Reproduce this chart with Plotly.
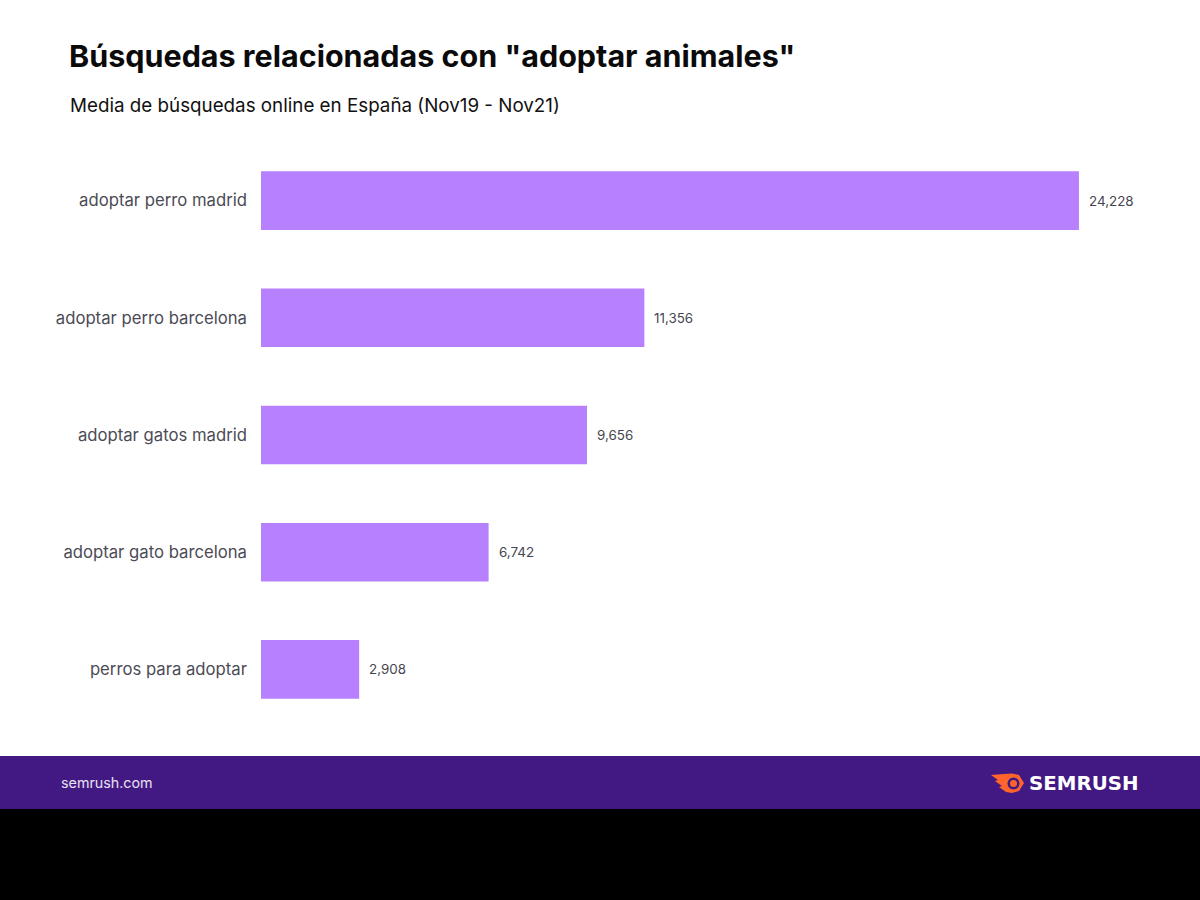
import plotly.graph_objects as go

W = 1200
H = 900

# plot area in page pixels
LEFT = 261
TOP = 142
BOTTOM = 728

# Data
keywords = ['adoptar perro madrid', 'adoptar perro barcelona', 'adoptar gatos madrid',
            'adoptar gato barcelona', 'perros para adoptar']
searches = [24228, 11356, 9656, 6742, 2908]

TITLE = 'Búsquedas relacionadas con "adoptar animales"'
SUBTITLE = 'Media de búsquedas online en España (Nov19 - Nov21)'


def px(x):
    # paper coordinates are relative to the plot area
    return (x - LEFT) / (W - LEFT)


def py(y):
    return (BOTTOM - y) / (BOTTOM - TOP)


def path(points):
    # pixel points -> closed svg path in paper coordinates
    parts = [f'{px(x):.5f},{py(y):.5f}' for x, y in points]
    return 'M' + ' L'.join(parts) + ' Z'


fig = go.Figure()
fig.add_trace(go.Bar(y=keywords, x=searches, orientation='h',
                     marker=dict(color='#B780FF', line=dict(width=0)),
                     hoverinfo='skip'))

# value labels next to the bars
for k, v in zip(keywords, searches):
    fig.add_annotation(x=v, y=k, xref='x', yref='y', text=f'{v:,}', showarrow=False,
                       xanchor='left', xshift=8,
                       font=dict(family='Inter', size=13.4, color='#45454F'))

# subtitle and footer text
fig.add_annotation(x=px(70), y=py(105), xref='paper', yref='paper', text=SUBTITLE,
                   showarrow=False, xanchor='left', yanchor='middle', xshift=-2,
                   font=dict(family='Inter', size=18.8, color='#111111'))
fig.add_annotation(x=px(61), y=py(782.5), xref='paper', yref='paper', text='semrush.com',
                   showarrow=False, xanchor='left', yanchor='middle', xshift=-2,
                   font=dict(family='Inter', size=14.3, color='#E8E0F2'))
fig.add_annotation(x=px(1029), y=py(783), xref='paper', yref='paper', text='<b>SEMRUSH</b>',
                   showarrow=False, xanchor='left', yanchor='middle', xshift=-2,
                   font=dict(family='DejaVu Sans', size=19.8, color='#FFFFFF'))

shapes = [
    # footer band and black strip
    dict(type='rect', xref='paper', yref='paper', x0=px(0), x1=px(W), y0=py(809), y1=py(756),
         fillcolor='#421983', line_width=0, layer='below'),
    dict(type='rect', xref='paper', yref='paper', x0=px(0), x1=px(W), y0=py(H), y1=py(809),
         fillcolor='#000000', line_width=0, layer='below'),
    # logo flame
    dict(type='path', xref='paper', yref='paper', line_width=0, fillcolor='#FF642D',
         path=path([(991, 775), (1004, 774), (1012, 773.5), (1019, 775), (1024, 783),
                    (1019, 791), (1012, 793), (1006, 792), (999, 787), (1002, 786), (995, 781), (998, 780)])),
    dict(type='circle', xref='paper', yref='paper', line_width=0, fillcolor='#421983',
         x0=px(1007.5), x1=px(1019.5), y0=py(789.5), y1=py(777.5)),
    dict(type='circle', xref='paper', yref='paper', line_width=0, fillcolor='#FF642D',
         x0=px(1010), x1=px(1017), y0=py(787), y1=py(780)),
]

fig.update_layout(
    width=W, height=H,
    margin=dict(l=LEFT, r=0, t=TOP, b=H - BOTTOM, autoexpand=False),
    paper_bgcolor='#FFFFFF', plot_bgcolor='#FFFFFF',
    showlegend=False,
    bargap=0.5,
    title=dict(text=f'<b>{TITLE}</b>', xref='container', yref='container', x=69 / W, xanchor='left',
               y=1 - 56 / H, yanchor='middle',
               font=dict(family='Inter', size=30.5, color='#0A0A0A')),
    xaxis=dict(range=[0, 27814], visible=False, fixedrange=True),
    yaxis=dict(autorange='reversed', showgrid=False, zeroline=False, showline=False,
               ticks='', ticklabelstandoff=13,
               tickfont=dict(family='Inter', size=16.7, color='#4B4B55')),
    shapes=shapes,
)

# the page has a default body margin, the chart should sit flush
fig.write_html('out.html', config=dict(displayModeBar=False),
               post_script="document.body.style.margin='0';window.dispatchEvent(new Event('resize'));")
